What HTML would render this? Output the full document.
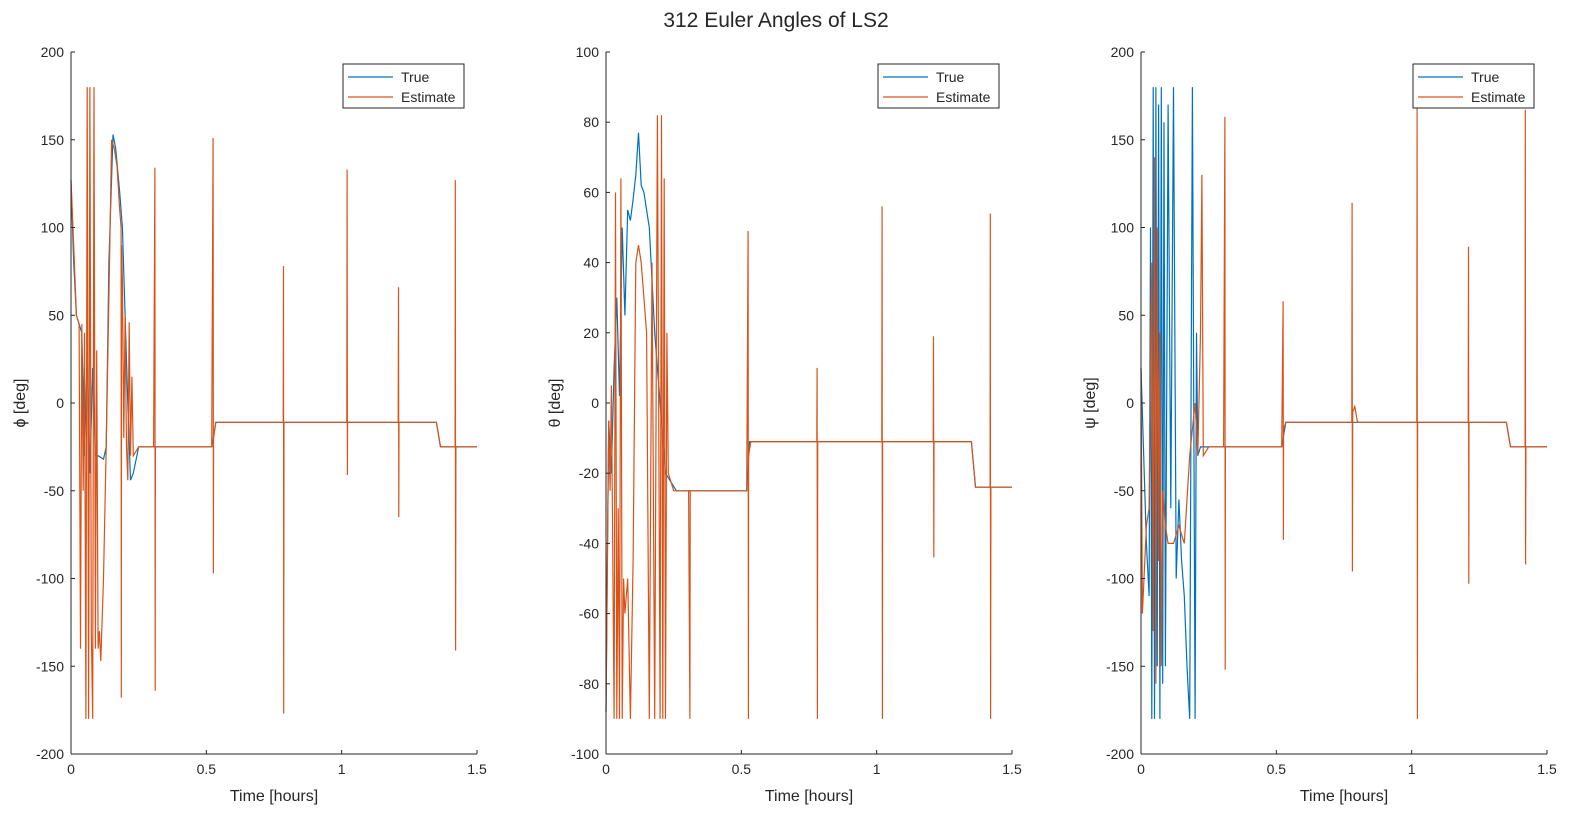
<!DOCTYPE html>
<html><head><meta charset="utf-8"><style>
body{margin:0;background:#fff;width:1580px;height:822px;overflow:hidden}
svg text{font-family:"Liberation Sans",sans-serif;fill:#262626}
</style></head><body>
<svg id="fig" width="1580" height="822">
<text x="776" y="27" font-size="21" text-anchor="middle" fill="#000">312 Euler Angles of LS2</text>
</svg>
<script>
// Subplot 1 (phi)
const phiTrueT=[0,0.01,0.02,0.03,0.04,0.05,0.06,0.07,0.08,0.09,0.1,0.12,0.13,0.14,0.155,0.165,0.18,0.19,0.2,0.21,0.22,0.23,0.25,0.52,0.535,1.35,1.365,1.5];
const phiTrueV=[127,80,50,45,40,-30,30,-40,20,-30,-30,-32,-25,80,153,145,120,100,50,0,-44,-40,-25,-25,-11,-11,-25,-25];
const phiEstT=[0,0.01,0.02,0.03,0.035,0.04,0.045,0.05,0.055,0.06,0.065,0.07,0.075,0.08,0.085,0.09,0.095,0.1,0.105,0.11,0.12,0.13,0.14,0.15,0.16,0.17,0.18,0.185,0.186,0.187,0.19,0.195,0.2,0.205,0.21,0.215,0.22,0.225,0.23,0.25,
 0.305,0.31,0.311,0.312,0.52,0.525,0.526,0.527,0.535,0.784,0.785,0.786,0.787,1.019,1.02,1.021,1.022,1.209,1.21,1.211,1.212,1.35,1.365,1.419,1.42,1.421,1.422,1.5];
const phiEstV=[127,90,50,45,-140,45,-50,40,-180,180,-180,180,-130,-180,180,-140,30,-140,-130,-147,-100,-25,60,150,145,135,110,100,-168,90,70,-20,50,-25,-44,46,-30,15,-30,-25,
 -25,134,-164,-25,-25,151,-97,-20,-11,-11,78,-177,-11,-11,133,-41,-11,-11,66,-65,-11,-11,-25,-25,127,-141,-25,-25];
// Subplot 2 (theta)
const thTrueT=[0,0.01,0.02,0.03,0.04,0.05,0.06,0.07,0.08,0.09,0.1,0.11,0.12,0.13,0.14,0.16,0.18,0.2,0.22,0.26,0.3,0.52,0.53,1.35,1.365,1.5];
const thTrueV=[-88,-5,-20,10,30,2,50,25,55,52,58,65,77,62,60,50,20,0,-20,-25,-25,-25,-11,-11,-24,-24];
const thEstT=[0,0.01,0.015,0.02,0.03,0.035,0.04,0.045,0.05,0.055,0.06,0.065,0.07,0.08,0.09,0.1,0.11,0.12,0.13,0.14,0.15,0.16,0.17,0.18,0.19,0.2,0.205,0.21,0.215,0.22,0.225,0.23,0.25,
 0.305,0.31,0.311,0.52,0.525,0.526,0.527,0.535,0.779,0.78,0.781,0.782,1.019,1.02,1.021,1.022,1.209,1.21,1.211,1.212,1.35,1.365,1.419,1.42,1.421,1.422,1.5];
const thEstV=[-88,-5,-25,5,-90,60,-90,-30,-90,64,-90,-50,-60,-50,-90,-45,40,45,40,30,20,-90,40,-90,82,-90,82,-90,64,-90,20,-20,-25,
 -25,-90,-25,-25,49,-90,-15,-11,-11,10,-90,-11,-11,56,-90,-11,-11,19,-44,-11,-11,-24,-24,54,-90,-24,-24];
// Subplot 3 (psi)
const psTrueT=[0,0.02,0.03,0.035,0.04,0.045,0.05,0.055,0.06,0.065,0.07,0.075,0.08,0.085,0.09,0.1,0.11,0.12,0.13,0.14,0.15,0.16,0.17,0.18,0.19,0.2,0.205,0.21,0.22,0.25,0.52,0.535,1.35,1.365,1.5];
const psTrueV=[20,-80,-110,100,-180,180,-180,180,-150,170,-180,180,-160,160,-150,170,-60,180,-100,-55,-90,-110,-150,-180,180,-180,40,-30,-25,-25,-25,-11,-11,-25,-25];
const psEstT=[0,0.005,0.02,0.03,0.04,0.045,0.05,0.055,0.06,0.065,0.07,0.075,0.08,0.09,0.1,0.12,0.14,0.16,0.18,0.2,0.21,0.22,0.225,0.23,0.25,
 0.305,0.31,0.311,0.312,0.52,0.525,0.526,0.527,0.535,0.779,0.78,0.781,0.782,0.79,0.8,1.019,1.02,1.021,1.022,1.209,1.21,1.211,1.212,1.35,1.365,1.419,1.42,1.421,1.422,1.5];
const psEstV=[20,-120,-70,-60,80,-130,140,-160,100,-90,40,-150,-50,-70,-80,-80,-70,-80,-30,0,-30,40,130,-30,-25,
 -25,163,-152,-25,-25,58,-78,-15,-11,-11,114,-96,-5,-2,-11,-11,170,-180,-11,-11,89,-103,-11,-11,-25,-25,167,-92,-25,-25];

const svg=document.getElementById('fig');
const NS='http://www.w3.org/2000/svg';
function mk(tag,attrs,parent){const e=document.createElementNS(NS,tag);for(const k in attrs)e.setAttribute(k,attrs[k]);(parent||svg).appendChild(e);return e;}
const panels=[
 {x0:71,ymin:-200,ymax:200,step:50,label:'\u03d5 [deg]',tT:phiTrueT,tV:phiTrueV,eT:phiEstT,eV:phiEstV,lx:343,name:'phi'},
 {x0:606,ymin:-100,ymax:100,step:20,label:'\u03b8 [deg]',tT:thTrueT,tV:thTrueV,eT:thEstT,eV:thEstV,lx:878,name:'theta'},
 {x0:1141,ymin:-200,ymax:200,step:50,label:'\u03c8 [deg]',tT:psTrueT,tV:psTrueV,eT:psEstT,eV:psEstV,lx:1413,name:'psi'}];
const topY=52,botY=754,W=406;
panels.forEach(p=>{
 const g=mk('g',{});
 
 
 const xs=t=>p.x0+t/1.5*W;
 const ys=v=>botY-(v-p.ymin)/(p.ymax-p.ymin)*(botY-topY);
 const draw=(T,V,c,nm)=>{const pl=mk('polyline',{points:T.map((t,i)=>xs(t).toFixed(1)+','+ys(V[i]).toFixed(1)).join(' '),fill:'none',stroke:c,'stroke-width':1.2},g);
  
  };
 draw(p.tT,p.tV,'#0072BD',p.name+'-true-line');
 draw(p.eT,p.eV,'#D95319',p.name+'-estimate-line');
 mk('line',{x1:p.x0,y1:topY,x2:p.x0,y2:botY,stroke:'#262626'},g);
 mk('line',{x1:p.x0,y1:botY,x2:p.x0+W,y2:botY,stroke:'#262626'},g);
 for(let v=p.ymin;v<=p.ymax;v+=p.step){const y=ys(v);
  mk('line',{x1:p.x0,y1:y,x2:p.x0+4,y2:y,stroke:'#262626'},g);
  const t=mk('text',{x:p.x0-7,y:y+5,'font-size':14,'text-anchor':'end'},g);t.textContent=v;
  
  }
 [0,0.5,1,1.5].forEach(v=>{const x=xs(v);
  mk('line',{x1:x,y1:botY,x2:x,y2:botY-4,stroke:'#262626'},g);
  const t=mk('text',{x:x,y:botY+20,'font-size':14,'text-anchor':'middle'},g);t.textContent=v;
  
  });
 const xl=mk('text',{x:p.x0+W/2,y:801,'font-size':16,'text-anchor':'middle'},g);xl.textContent='Time [hours]';
 
 
 const yl=mk('text',{x:0,y:0,'font-size':16,'text-anchor':'middle',transform:`translate(${p.x0-46},${(topY+botY)/2}) rotate(-90)`},g);yl.textContent=p.label;
 
 
 const lg=mk('g',{},g);
 
 
 mk('rect',{x:p.lx,y:64,width:121,height:44,fill:'#fff',stroke:'#262626'},lg);
 mk('line',{x1:p.lx+5,y1:77,x2:p.lx+50,y2:77,stroke:'#0072BD','stroke-width':1.2},lg);
 mk('line',{x1:p.lx+5,y1:97,x2:p.lx+50,y2:97,stroke:'#D95319','stroke-width':1.2},lg);
 const a=mk('text',{x:p.lx+58,y:82,'font-size':14},lg);a.textContent='True';
 
 
 const b=mk('text',{x:p.lx+58,y:102,'font-size':14},lg);b.textContent='Estimate';
 
 
});
</script>
</body></html>
